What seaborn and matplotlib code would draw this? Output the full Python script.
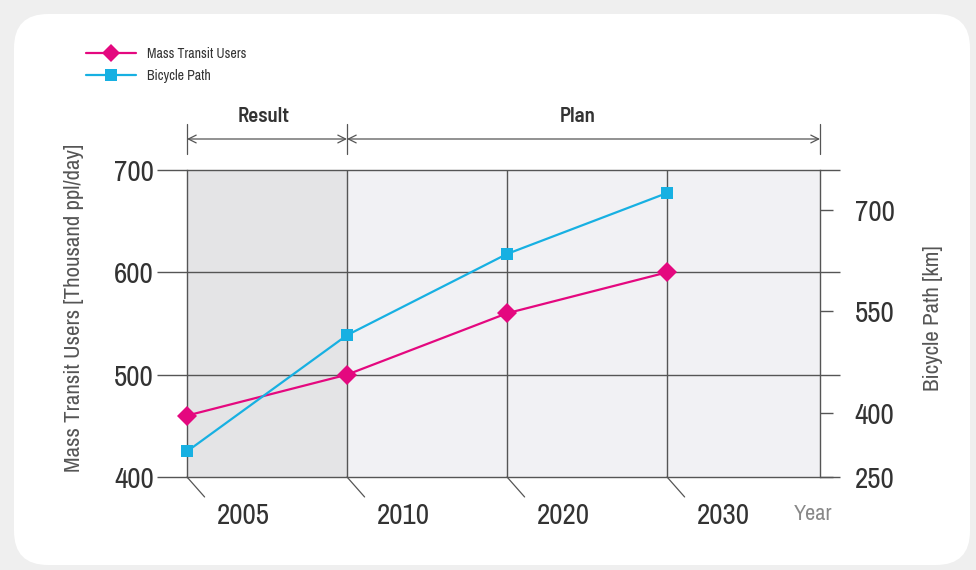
import numpy as np
import pandas as pd
import matplotlib
matplotlib.use("Agg")
import matplotlib.pyplot as plt
import matplotlib.transforms as mtrans
from matplotlib.patches import FancyBboxPatch
from matplotlib.lines import Line2D
import seaborn as sns

# ---- data ----
years = ["2005", "2010", "2020", "2030"]
mass_transit = [460, 500, 560, 600]      # thousand ppl/day (left axis)
bicycle_path = [310, 515, 635, 725]      # km (right axis)
left_ticks = [400, 500, 600, 700]
right_ticks = [250, 400, 550, 700]
phase_labels = ["Result", "Plan"]

sns.set_style("white")
FONT = ["Archivo Narrow", "Liberation Sans", "DejaVu Sans"]
BOLD = ["Barlow Semi Condensed", "Archivo Narrow", "Liberation Sans"]
plt.rcParams["font.family"] = FONT

MAG = "#e4087f"
CYA = "#17b0e2"
GRID = "#555555"
TXT = "#333333"

W, H = 976, 570
fig = plt.figure(figsize=(W / 100, H / 100), dpi=100)
fig.patch.set_facecolor("#efefef")
card = FancyBboxPatch((14, 5), 956, 551, boxstyle="round,pad=0,rounding_size=34",
                      transform=mtrans.IdentityTransform(), facecolor="white",
                      edgecolor="none", zorder=-10)
fig.patches.append(card)

def fx(px):
    return px / W

def fy(py):
    return 1 - py / H

ax = fig.add_axes([fx(187), fy(477), fx(820) - fx(187), fy(170) - fy(477)])
ax.set_facecolor("none")
XMAX = 3.956
ax.set_xlim(0, XMAX)
ax.set_ylim(400, 700)

# column shading
ax.axvspan(0, 1, color="#e4e4e6", zorder=0, lw=0)
ax.axvspan(1, XMAX, color="#f1f1f4", zorder=0, lw=0)
# vertical column separators
ax.vlines([1, 2, 3], 400, 700, color=GRID, lw=1.0, zorder=1)
# horizontal gridlines extending beyond the plot on both sides
ax.hlines(left_ticks, -0.047 * XMAX, XMAX * 1.032, color=GRID, lw=1.0,
          zorder=1, clip_on=False)

for s in ["top", "bottom"]:
    ax.spines[s].set_visible(False)
for s in ["left", "right"]:
    ax.spines[s].set_color(GRID)
    ax.spines[s].set_linewidth(1.0)

df = pd.DataFrame({"x": np.arange(len(years)), "mass": mass_transit, "bike": bicycle_path})
sns.lineplot(data=df, x="x", y="mass", ax=ax, color=MAG, lw=1.6, marker="D",
             markersize=10, markeredgewidth=0, zorder=5, clip_on=False)

ax.set_yticks(left_ticks)
ax.set_yticklabels([str(t) for t in left_ticks], fontsize=21, color=TXT)
ax.tick_params(axis="y", length=0, pad=24)
ax.set_xticks([])
ax.set_xlabel("")
ax.set_ylabel("Mass Transit Users [Thousand ppl/day]", fontsize=16.5, color="#555555")
ax.yaxis.set_label_coords(-0.163, 0.55)

# year labels with diagonal leader lines
xt = ax.get_xaxis_transform()
for i, yr in enumerate(years):
    ax.plot([i, i + 0.11], [0, -0.065], transform=xt, color=GRID, lw=0.9, clip_on=False)
    ax.text(i + 0.35, -0.125, yr, transform=xt, ha="center", va="center",
            fontsize=21, color=TXT)
ax.text(3.91, -0.12, "Year", transform=xt, ha="center", va="center", fontsize=16,
        color="#888888")

# right axis with compressed lower segment
K = 0.63
def fwd(v):
    v = np.asarray(v, dtype=float)
    return np.where(v >= 400, v, 400 - (400 - v) * K)

def inv(u):
    u = np.asarray(u, dtype=float)
    return np.where(u >= 400, u, 400 - (400 - u) / K)

ax2 = ax.twinx()
ax2.set_yscale("function", functions=(fwd, inv))
ax2.set_ylim(250, 759)
for s in ["top", "bottom", "left", "right"]:
    ax2.spines[s].set_visible(False)
sns.lineplot(data=df, x="x", y="bike", ax=ax2, color=CYA, lw=1.6, marker="s",
             markersize=8.5, markeredgewidth=0, zorder=5, clip_on=False)
ax2.set_xlim(0, XMAX)
ax2.set_yticks(right_ticks)
ax2.set_yticklabels([str(t) for t in right_ticks], fontsize=21, color=TXT)
ax2.yaxis.set_minor_locator(matplotlib.ticker.NullLocator())
ax2.tick_params(axis="y", length=9, width=1.0, color=GRID, pad=16, direction="out")
ax2.set_xlabel("")
ax2.set_ylabel("Bicycle Path [km]", fontsize=16.5, color="#555555", rotation=90)
ax2.yaxis.set_label_coords(1.163, 0.518)

# Result / Plan arrows on top
yb = 1 + 31 / 307
for xv in [0, 1, XMAX]:
    ax.plot([xv, xv], [yb - 15 / 307, yb + 15 / 307], transform=xt, color=GRID,
            lw=0.9, clip_on=False)
arrow_kw = dict(arrowstyle="<->", color=GRID, lw=0.9, mutation_scale=14,
                shrinkA=0, shrinkB=0)
ax.annotate("", xy=(0, yb), xytext=(1, yb), xycoords=xt, textcoords=xt,
            arrowprops=arrow_kw, annotation_clip=False)
ax.annotate("", xy=(1, yb), xytext=(XMAX, yb), xycoords=xt, textcoords=xt,
            arrowprops=arrow_kw, annotation_clip=False)
ax.text(0.48, 1 + 53 / 307, phase_labels[0], transform=xt, ha="center", va="center",
        fontsize=15, fontweight="semibold", color=TXT, family=BOLD)
ax.text(2.44, 1 + 53 / 307, phase_labels[1], transform=xt, ha="center", va="center",
        fontsize=15, fontweight="semibold", color=TXT, family=BOLD)

# legend
handles = [
    Line2D([], [], color=MAG, lw=1.6, marker="D", markersize=9, markeredgewidth=0),
    Line2D([], [], color=CYA, lw=1.6, marker="s", markersize=8, markeredgewidth=0),
]
fig.legend(handles, ["Mass Transit Users", "Bicycle Path"], loc="upper left",
           bbox_to_anchor=(fx(73), fy(34)), frameon=False, fontsize=10,
           handlelength=3.6, labelspacing=0.62, handletextpad=0.8,
           labelcolor="#333333")

fig.savefig("out.png", dpi=100, facecolor=fig.get_facecolor())
